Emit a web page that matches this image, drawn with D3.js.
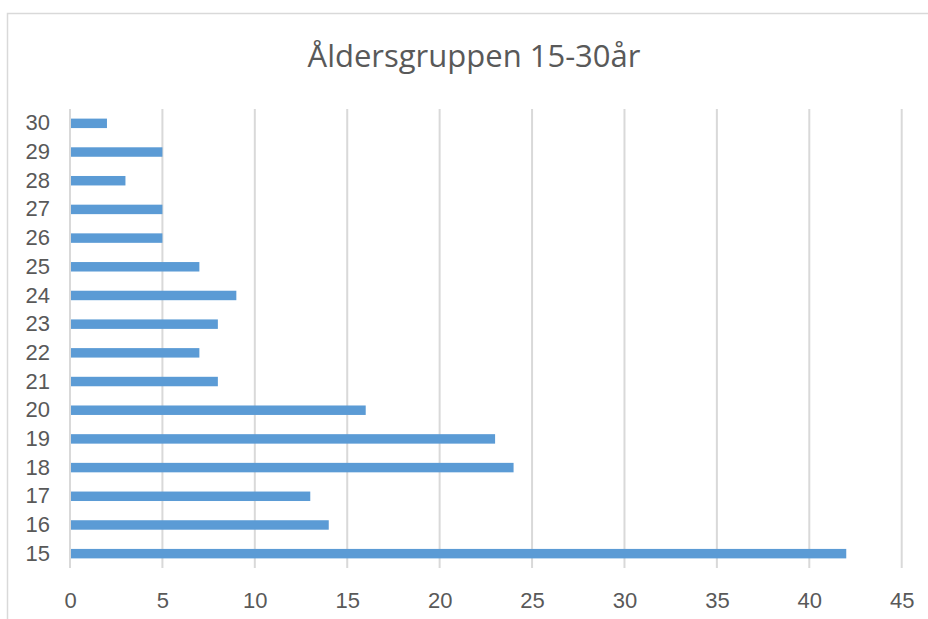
<!DOCTYPE html>
<html>
<head>
<meta charset="utf-8">
<script src="https://cdn.jsdelivr.net/npm/d3@7.9.0/dist/d3.min.js"></script>
<style>
  html, body { margin: 0; padding: 0; background: #fff; }
  svg { display: block; font-family: "Open Sans", Lato, sans-serif; }
</style>
</head>
<body>
<svg id="chart" width="928" height="619"></svg>
<script>
// Age groups (bottom to top) and counts
const ages = ['15', '16', '17', '18', '19', '20', '21', '22', '23', '24', '25', '26', '27', '28', '29', '30'];
const counts = [42, 14, 13, 24, 23, 16, 8, 7, 8, 9, 7, 5, 5, 3, 5, 2];
const xTicks = [0, 5, 10, 15, 20, 25, 30, 35, 40, 45];
const title = 'Åldersgruppen 15-30år';

const svg = d3.select('#chart');
const textColor = '#595959';

// chart frame (left + top edges show in the crop)
svg.append('rect')
  .attr('x', 7.5).attr('y', 13.5)
  .attr('width', 1000).attr('height', 700)
  .attr('fill', 'none')
  .attr('stroke', '#d9d9d9')
  .attr('stroke-width', 1.5);

const plot = { left: 70, right: 901.7, top: 109, bottom: 568 };

const x = d3.scaleLinear().domain([0, 45]).range([plot.left, plot.right]);
const y = d3.scaleBand()
  .domain(ages.slice().reverse())
  .range([plot.top, plot.bottom])
  .paddingInner(0.67)
  .paddingOuter(0.335);

// vertical gridlines
svg.append('g')
  .selectAll('line')
  .data(xTicks)
  .join('line')
  .attr('x1', d => x(d)).attr('x2', d => x(d))
  .attr('y1', plot.top).attr('y2', plot.bottom)
  .attr('stroke', '#d9d9d9')
  .attr('stroke-width', 2);

// bars
svg.append('g')
  .selectAll('rect')
  .data(ages.map((a, i) => ({ age: a, value: counts[i] })))
  .join('rect')
  .attr('x', x(0) + 1)
  .attr('y', d => y(d.age))
  .attr('width', d => x(d.value) - x(0) - 1)
  .attr('height', y.bandwidth())
  .attr('fill', '#5b9bd5');

// x axis labels
const xAxis = svg.append('g')
  .attr('transform', `translate(0,${plot.bottom})`)
  .call(d3.axisBottom(x).tickValues(xTicks).tickSize(0).tickPadding(24));
xAxis.select('.domain').remove();
xAxis.selectAll('text')
  .attr('fill', textColor)
  .style('font-size', '22px');

// y axis labels
const yAxis = svg.append('g')
  .attr('transform', `translate(${plot.left},0)`)
  .call(d3.axisLeft(y).tickSize(0).tickPadding(20));
yAxis.select('.domain').remove();
yAxis.selectAll('text')
  .attr('fill', textColor)
  .style('font-size', '22px');

// title
svg.append('text')
  .attr('x', 474)
  .attr('y', 67)
  .attr('text-anchor', 'middle')
  .attr('fill', textColor)
  .style('font-size', '31px')
  .text(title);
</script>
</body>
</html>
